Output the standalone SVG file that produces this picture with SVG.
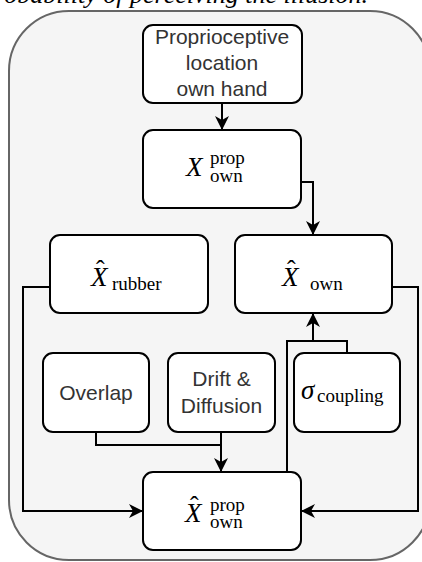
<svg xmlns="http://www.w3.org/2000/svg" width="422" height="562" viewBox="0 0 422 562">
<style>
.box{fill:#fff;stroke:#000;stroke-width:2}
.lbl{font-family:"Liberation Sans",Arial,sans-serif;font-size:21px;fill:#333;text-anchor:middle}
.m{font-family:"Liberation Serif","Times New Roman",serif;fill:#000}
.mi{font-style:italic;font-size:27px}
.ms{font-size:19px}
.hat{font-size:26px}
.wire{fill:none;stroke:#000;stroke-width:2}
</style>
<defs>
<marker id="arr" markerUnits="userSpaceOnUse" viewBox="0 0 14 14" markerWidth="14" markerHeight="14" refX="14" refY="7" orient="auto">
<path d="M0,0 L14,7 L0,14 L4,7 Z" fill="#000"/>
</marker>
</defs>
<rect width="422" height="562" fill="#fff"/>
<text x="368" y="3" text-anchor="end" font-family="'Liberation Serif','Times New Roman',serif" font-style="italic" font-size="26" fill="#000">probability of perceiving the illusion.</text>
<rect id="container" x="9" y="11" width="421" height="549" rx="60" fill="#f5f5f5" stroke="#666" stroke-width="2"/>
<g id="connectors">
<path class="wire" d="M222,103 V130" marker-end="url(#arr)"/>
<path class="wire" d="M301,182 H313 V235" marker-end="url(#arr)"/>
<path class="wire" d="M50,287 H23 V511 H143" marker-end="url(#arr)"/>
<path class="wire" d="M392,287 H418 V511 H301" marker-end="url(#arr)"/>
<path class="wire" d="M96,432 V445 H221"/>
<path class="wire" d="M221,432 V472" marker-end="url(#arr)"/>
<path class="wire" d="M287,472 V341 H313 V313" marker-end="url(#arr)"/>
<path class="wire" d="M347,353 V341 H313"/>
</g>
<g id="proprioceptive">
<rect class="box" x="143" y="25" width="159" height="78" rx="10"/>
<text class="lbl" x="222" y="44">Proprioceptive</text>
<text class="lbl" x="222" y="70">location</text>
<text class="lbl" x="222" y="96">own hand</text>
</g>
<g id="x-prop-own">
<rect class="box" x="143" y="130" width="158" height="78" rx="10"/>
<text class="m mi" x="186" y="176">X</text>
<text class="m ms" x="210" y="164">prop</text>
<text class="m ms" x="210" y="182">own</text>
</g>
<g id="xhat-rubber">
<rect class="box" x="50" y="235" width="158" height="78" rx="10"/>
<text class="m mi" x="91" y="286">X</text>
<text class="m hat" x="96" y="278">ˆ</text>
<text class="m ms" x="112" y="290">rubber</text>
</g>
<g id="xhat-own">
<rect class="box" x="235" y="235" width="157" height="78" rx="10"/>
<text class="m mi" x="282" y="286">X</text>
<text class="m hat" x="287" y="278">ˆ</text>
<text class="m ms" x="310" y="290">own</text>
</g>
<g id="overlap">
<rect class="box" x="43" y="353" width="106" height="79" rx="10"/>
<text class="lbl" x="96" y="400">Overlap</text>
</g>
<g id="drift-diffusion">
<rect class="box" x="168" y="353" width="107" height="79" rx="10"/>
<text class="lbl" x="221.5" y="386">Drift &amp;</text>
<text class="lbl" x="221.5" y="413">Diffusion</text>
</g>
<g id="sigma-coupling">
<rect class="box" x="294" y="353" width="106" height="79" rx="10"/>
<text class="m mi" x="301" y="399">σ</text>
<text class="m ms" x="317" y="402">coupling</text>
</g>
<g id="xhat-prop-own">
<rect class="box" x="143" y="472" width="158" height="78" rx="10"/>
<text class="m mi" x="185" y="522">X</text>
<text class="m hat" x="190" y="514">ˆ</text>
<text class="m ms" x="210" y="511">prop</text>
<text class="m ms" x="210" y="528">own</text>
</g>
</svg>
